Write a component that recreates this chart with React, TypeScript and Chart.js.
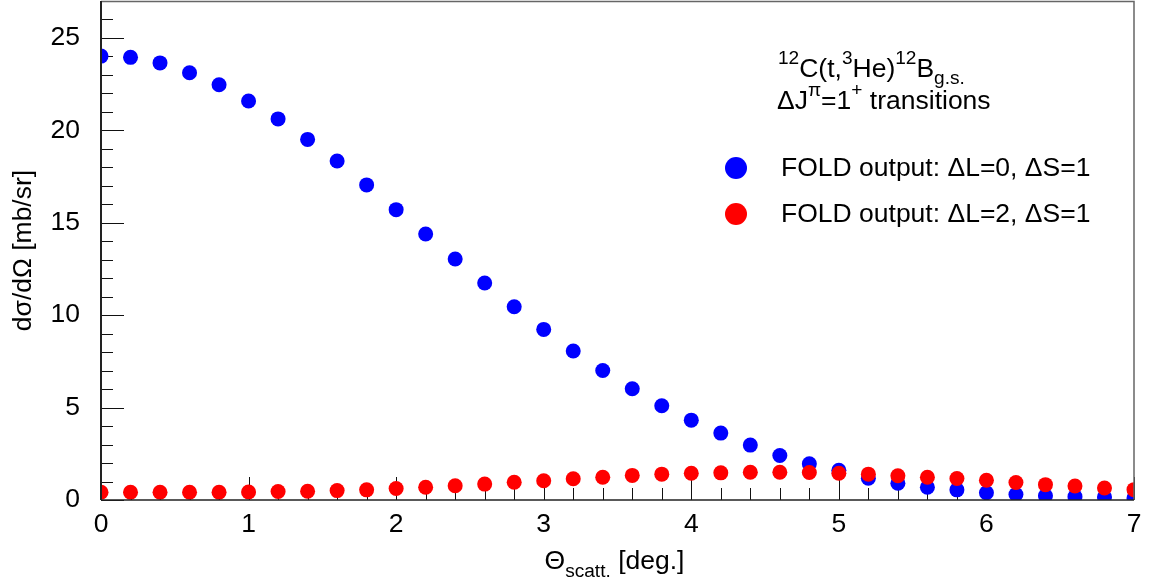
import { useEffect, useRef } from 'react';
import { Chart, registerables } from 'chart.js';

Chart.register(...registerables);

// Scattering angle (deg.)
const angles = [
  0, 0.2, 0.4, 0.6, 0.8, 1.0, 1.2, 1.4, 1.6, 1.8,
  2.0, 2.2, 2.4, 2.6, 2.8, 3.0, 3.2, 3.4, 3.6, 3.8,
  4.0, 4.2, 4.4, 4.6, 4.8, 5.0, 5.2, 5.4, 5.6, 5.8,
  6.0, 6.2, 6.4, 6.6, 6.8, 7.0,
];

// FOLD output: dL=0, dS=1 (mb/sr)
const foldL0 = [
  24.02, 23.95, 23.65, 23.12, 22.47, 21.59, 20.62, 19.51, 18.34, 17.05,
  15.71, 14.39, 13.04, 11.74, 10.46, 9.23, 8.06, 7.01, 6.02, 5.10,
  4.32, 3.62, 2.97, 2.41, 1.96, 1.61, 1.18, 0.91, 0.69, 0.55,
  0.39, 0.30, 0.23, 0.18, 0.16, 0.11,
];

// FOLD output: dL=2, dS=1 (mb/sr)
const foldL2 = [
  0.42, 0.42, 0.42, 0.42, 0.42, 0.43, 0.46, 0.47, 0.51, 0.55,
  0.62, 0.69, 0.77, 0.86, 0.96, 1.04, 1.15, 1.23, 1.33, 1.40,
  1.45, 1.47, 1.50, 1.50, 1.49, 1.45, 1.40, 1.31, 1.23, 1.16,
  1.07, 0.95, 0.83, 0.76, 0.65, 0.56,
];

const seriesLabels = ['FOLD output: \u0394L=0, \u0394S=1', 'FOLD output: \u0394L=2, \u0394S=1'];
const seriesColors = ['#0000ff', '#ff0000'];

const FONT = "'Liberation Sans', Arial, Helvetica, sans-serif";
const FS = 26.5;

type Seg = { t: string; k?: 'sup' | 'sub' };

function drawRich(ctx: CanvasRenderingContext2D, segs: Seg[], x: number, y: number, size: number, subDrop = 0.25) {
  let cx = x;
  for (const s of segs) {
    let sz = size;
    let dy = 0;
    if (s.k === 'sup') { sz = size * 0.72; dy = -size * 0.5; }
    if (s.k === 'sub') { sz = size * 0.72; dy = size * subDrop; }
    ctx.font = `${sz}px ${FONT}`;
    ctx.fillText(s.t, cx, y + dy);
    cx += ctx.measureText(s.t).width;
  }
  return cx - x;
}

function measureRich(ctx: CanvasRenderingContext2D, segs: Seg[], size: number) {
  let w = 0;
  for (const s of segs) {
    const sz = s.k ? size * 0.72 : size;
    ctx.font = `${sz}px ${FONT}`;
    w += ctx.measureText(s.t).width;
  }
  return w;
}

const rootPlugin = {
  id: 'rootStyle',
  beforeDatasetsDraw(chart: any) {
    const { ctx, chartArea: a, scales } = chart;
    const xs = scales.x;
    const ys = scales.y;
    ctx.save();
    ctx.strokeStyle = '#111';
    ctx.lineWidth = 1;
    ctx.beginPath();
    for (let i = 0; i <= 35; i++) {
      const px = Math.round(xs.getPixelForValue(i / 5)) + 0.5;
      const len = i % 5 === 0 ? 23 : 12;
      ctx.moveTo(px, a.bottom);
      ctx.lineTo(px, a.bottom - len);
    }
    for (let i = 0; i <= 27; i++) {
      const py = Math.round(ys.getPixelForValue(i)) + 0.5;
      const len = i % 5 === 0 ? 23 : 12;
      ctx.moveTo(a.left, py);
      ctx.lineTo(a.left + len, py);
    }
    ctx.stroke();
    ctx.restore();
  },
  afterDatasetsDraw(chart: any) {
    const { ctx, chartArea: a } = chart;
    ctx.save();
    ctx.strokeStyle = '#666';
    ctx.lineWidth = 1.5;
    ctx.beginPath();
    ctx.moveTo(a.left, a.top + 0.5);
    ctx.lineTo(a.right, a.top + 0.5);
    ctx.lineTo(a.right, a.bottom);
    ctx.stroke();
    ctx.strokeStyle = '#222';
    ctx.lineWidth = 2;
    ctx.beginPath();
    ctx.moveTo(a.left, a.top);
    ctx.lineTo(a.left, a.bottom);
    ctx.stroke();
    ctx.lineWidth = 1.5;
    ctx.beginPath();
    ctx.moveTo(a.left, a.bottom);
    ctx.lineTo(a.right, a.bottom);
    ctx.stroke();
    ctx.restore();
  },
  afterDraw(chart: any) {
    const { ctx, chartArea: a } = chart;
    ctx.save();
    ctx.fillStyle = '#000';
    ctx.textBaseline = 'alphabetic';
    ctx.textAlign = 'left';

    // x-axis title
    const xt: Seg[] = [{ t: '\u0398' }, { t: 'scatt.', k: 'sub' }, { t: ' [deg.]' }];
    const xw = measureRich(ctx, xt, FS);
    drawRich(ctx, xt, (a.left + a.right) / 2 - xw / 2 - 3, 569, FS, 0.3);

    // y-axis title
    ctx.save();
    ctx.translate(31, (a.top + a.bottom) / 2);
    ctx.rotate(-Math.PI / 2);
    ctx.font = `${FS}px ${FONT}`;
    ctx.textAlign = 'center';
    ctx.fillText('d\u03c3/d\u03a9 [mb/sr]', 0, 0);
    ctx.restore();

    // annotation
    ctx.textAlign = 'left';
    drawRich(ctx, [
      { t: '12', k: 'sup' }, { t: 'C(t,' }, { t: '3', k: 'sup' }, { t: 'He)' },
      { t: '12', k: 'sup' }, { t: 'B' }, { t: 'g.s.', k: 'sub' },
    ], 778, 77, FS);
    drawRich(ctx, [
      { t: '\u0394J' }, { t: '\u03c0', k: 'sup' }, { t: '=1' }, { t: '+', k: 'sup' }, { t: ' transitions' },
    ], 777, 109, FS);

    // legend
    const rows = [168, 214];
    rows.forEach((cy, i) => {
      ctx.fillStyle = seriesColors[i];
      ctx.beginPath();
      ctx.arc(736, cy, 11, 0, Math.PI * 2);
      ctx.fill();
      ctx.fillStyle = '#000';
      ctx.font = `${FS}px ${FONT}`;
      ctx.textBaseline = 'middle';
      ctx.fillText(seriesLabels[i], 781, cy + 1);
    });
    ctx.restore();
  },
};

export default function App() {
  const ref = useRef<HTMLCanvasElement | null>(null);
  useEffect(() => {
    document.body.style.margin = '0';
    if (!ref.current) return;
    const mk = (vals: number[]) => angles.map((x, i) => ({ x, y: vals[i] }));
    const chart = new Chart(ref.current, {
      type: 'scatter',
      data: {
        datasets: [
          {
            label: seriesLabels[0],
            data: mk(foldL0),
            backgroundColor: seriesColors[0],
            borderWidth: 0,
            pointRadius: 7.5,
            clip: 0,
            order: 2,
          },
          {
            label: seriesLabels[1],
            data: mk(foldL2),
            backgroundColor: seriesColors[1],
            borderWidth: 0,
            pointRadius: 7.5,
            clip: 0,
            order: 1,
          },
        ],
      },
      options: {
        animation: false,
        responsive: true,
        maintainAspectRatio: false,
        layout: { autoPadding: false, padding: { left: 0, top: 1, right: 17, bottom: 0 } },
        plugins: { legend: { display: false }, tooltip: { enabled: false } },
        scales: {
          x: {
            type: 'linear',
            min: 0,
            max: 7,
            grid: { display: false, drawTicks: false },
            border: { display: false },
            ticks: {
              stepSize: 1,
              padding: 9,
              color: '#000',
              font: { family: FONT, size: FS },
              maxRotation: 0,
            },
            afterFit(scale: any) {
              scale.height = 84;
              scale.paddingLeft = 0;
              scale.paddingRight = 0;
              scale.paddingTop = 0;
              scale.paddingBottom = 0;
            },
          },
          y: {
            type: 'linear',
            min: 0,
            max: 27,
            grid: { display: false, drawTicks: false },
            border: { display: false },
            ticks: {
              stepSize: 5,
              padding: 21,
              color: '#000',
              font: { family: FONT, size: FS },
              callback: (v: any) => (Number(v) % 5 === 0 ? String(v) : ''),
            },
            afterFit(scale: any) {
              scale.width = 101;
              scale.paddingTop = 0;
              scale.paddingBottom = 0;
              scale.paddingLeft = 0;
              scale.paddingRight = 0;
            },
          },
        },
      },
      plugins: [rootPlugin],
    } as any);
    return () => chart.destroy();
  }, []);
  return (
    <div style={{ width: 1151, height: 584, position: 'relative' }}>
      <canvas ref={ref} />
    </div>
  );
}
